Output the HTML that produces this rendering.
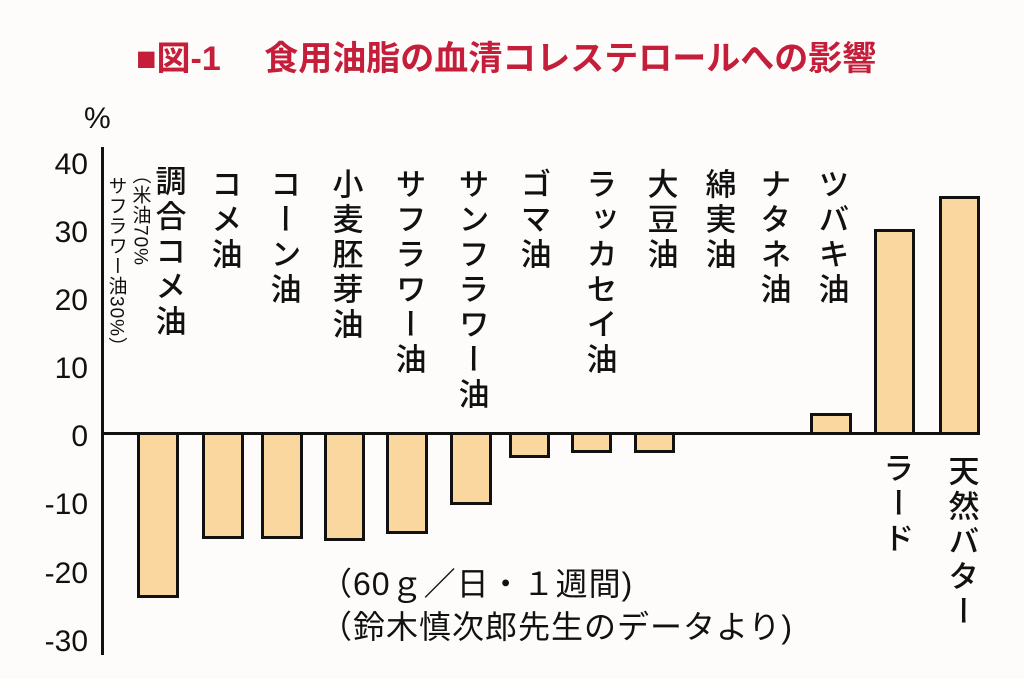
<!DOCTYPE html>
<html><head><meta charset="utf-8"><style>
body{margin:0;width:1024px;height:679px;background:#fdfcfa;position:relative;overflow:hidden;font-family:"Liberation Sans","Noto Sans CJK JP",sans-serif;color:#111}
.t{position:absolute;white-space:nowrap}
.v{position:absolute;writing-mode:vertical-rl;font-size:31px;font-weight:500;line-height:1;letter-spacing:4px;transform:translateX(-50%)}
.b{position:absolute;background:#fad79e;border:3px solid #111;box-sizing:border-box}
.y{position:absolute;font-size:30px;text-align:right;width:80px;left:8px;line-height:1}
</style></head><body>
<div class="t" style="left:136px;top:31px;font-size:34px;font-weight:bold;color:#c41e3a">■図-1　 食用油脂の血清コレステロールへの影響</div>
<div class="t" style="left:84px;top:102px;font-size:30px">%</div>
<div class="y" style="top:150px">40</div>
<div class="y" style="top:218px">30</div>
<div class="y" style="top:286px">20</div>
<div class="y" style="top:354px">10</div>
<div class="y" style="top:422px">0</div>
<div class="y" style="top:490px">-10</div>
<div class="y" style="top:559px">-20</div>
<div class="y" style="top:627px">-30</div>
<div style="position:absolute;left:101px;top:147px;width:3px;height:508px;background:#111"></div>
<div style="position:absolute;left:101px;top:432px;width:878px;height:3px;background:#111"></div>
<div class="b" style="left:137px;top:432px;width:42px;height:166px"></div>
<div class="b" style="left:202px;top:432px;width:42px;height:107px"></div>
<div class="b" style="left:261px;top:432px;width:42px;height:107px"></div>
<div class="b" style="left:324px;top:432px;width:41px;height:109px"></div>
<div class="b" style="left:386px;top:432px;width:42px;height:102px"></div>
<div class="b" style="left:450px;top:432px;width:42px;height:73px"></div>
<div class="b" style="left:509px;top:432px;width:41px;height:26px"></div>
<div class="b" style="left:571px;top:432px;width:41px;height:21px"></div>
<div class="b" style="left:634px;top:432px;width:41px;height:21px"></div>
<div class="b" style="left:810px;top:413px;width:42px;height:22px"></div>
<div class="b" style="left:874px;top:229px;width:41px;height:206px"></div>
<div class="b" style="left:939px;top:196px;width:41px;height:239px"></div>
<div class="v" style="left:116px;top:176px;font-size:19px;font-weight:normal;letter-spacing:1px">サフラワー油30%）</div>
<div class="v" style="left:140px;top:165px;font-size:19px;font-weight:normal;letter-spacing:1px">（米油70%</div>
<div class="v" style="left:168px;top:165px">調合コメ油</div>
<div class="v" style="left:224px;top:168px">コメ油</div>
<div class="v" style="left:283px;top:168px">コーン油</div>
<div class="v" style="left:345px;top:168px">小麦胚芽油</div>
<div class="v" style="left:408px;top:168px">サフラワー油</div>
<div class="v" style="left:471px;top:168px">サンフラワー油</div>
<div class="v" style="left:533px;top:168px">ゴマ油</div>
<div class="v" style="left:599px;top:168px">ラッカセイ油</div>
<div class="v" style="left:660px;top:168px">大豆油</div>
<div class="v" style="left:718px;top:168px">綿実油</div>
<div class="v" style="left:773px;top:168px">ナタネ油</div>
<div class="v" style="left:831px;top:168px">ツバキ油</div>
<div class="v" style="left:896px;top:452px">ラード</div>
<div class="v" style="left:961px;top:455px">天然バター</div>
<div class="t" style="left:320px;top:559px;font-size:32px;letter-spacing:1px">（60ｇ／日・１週間)</div>
<div class="t" style="left:320px;top:602px;font-size:32px;letter-spacing:1px">（鈴木慎次郎先生のデータより)</div>
</body></html>
